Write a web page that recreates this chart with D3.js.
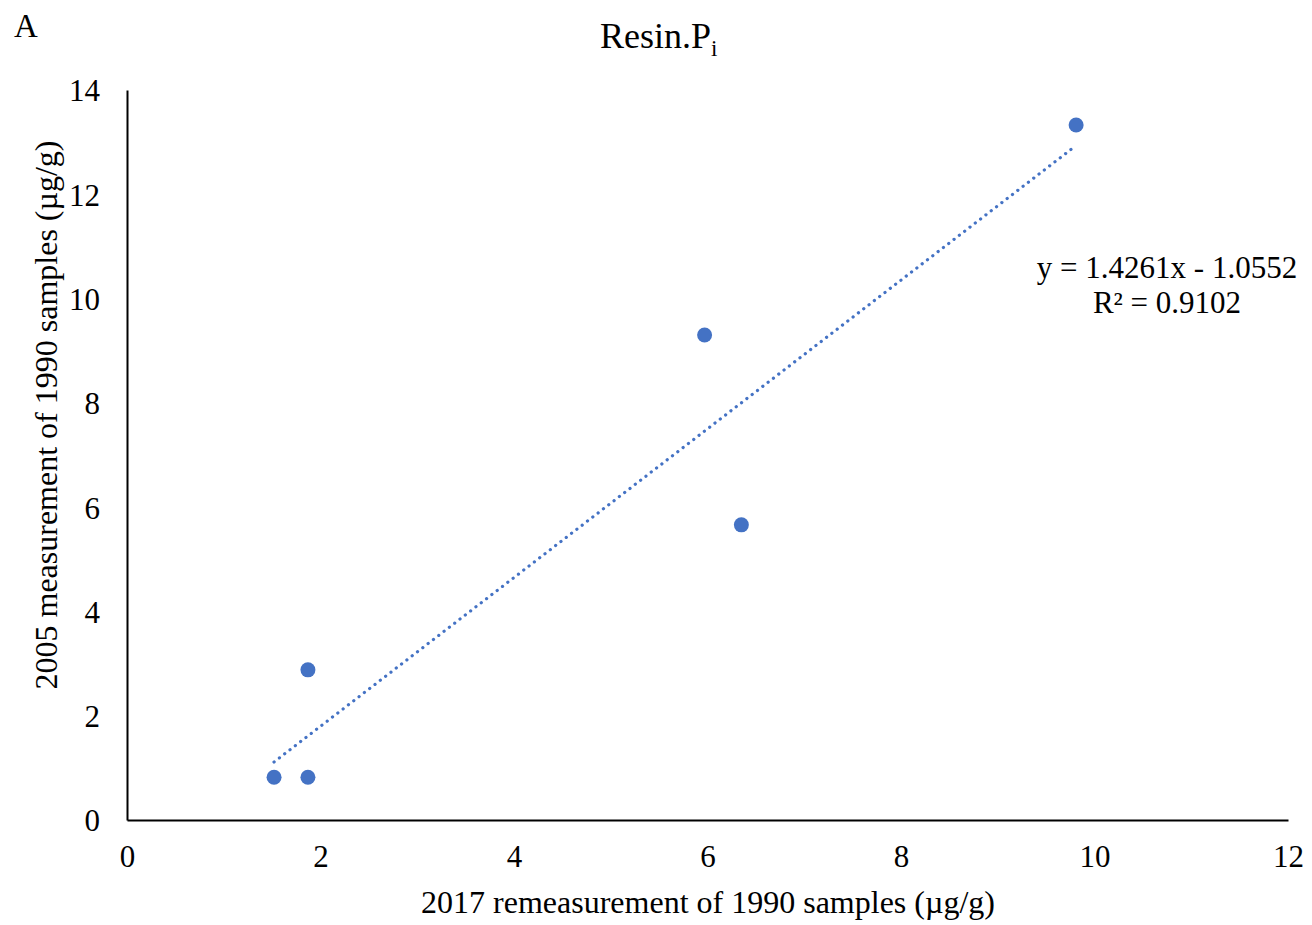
<!DOCTYPE html>
<html>
<head>
<meta charset="utf-8">
<script src="https://cdn.jsdelivr.net/npm/d3@7"></script>
<style>
  html, body { margin: 0; padding: 0; background: #fff; }
  svg { display: block; font-family: "Liberation Serif", "Times New Roman", serif; }
</style>
</head>
<body>
<svg id="chart" width="1312" height="925"></svg>
<script>
// Resin Pi: 2017 remeasurement (x) vs 2005 measurement (y), µg/g
const xValues = [1.52, 1.87, 1.87, 5.97, 6.35, 9.81];
const yValues = [0.82, 0.82, 2.88, 9.30, 5.66, 13.33];
const xTicks = [0, 2, 4, 6, 8, 10, 12];
const yTicks = [0, 2, 4, 6, 8, 10, 12, 14];
const slope = 1.4261;
const intercept = -1.0552;
const rSquared = 0.9102;

const svg = d3.select("#chart");
const x = d3.scaleLinear().domain([0, 12]).range([127, 1288]);
const y = d3.scaleLinear().domain([0, 14]).range([820, 90]);
const blue = "#4472C4";
const fs = 31;

// axes (lines only, no tick marks)
const xAxis = svg.append("g").attr("transform", `translate(0,${y(0)})`)
  .call(d3.axisBottom(x).tickValues(xTicks).tickSize(0).tickPadding(25).tickFormat(d3.format("d")));
const yAxis = svg.append("g").attr("transform", `translate(${x(0)},0)`)
  .call(d3.axisLeft(y).tickValues(yTicks).tickSize(0).tickPadding(27).tickFormat(d3.format("d")));
[xAxis, yAxis].forEach(g => {
  g.select(".domain").attr("stroke", "#000").attr("stroke-width", 2);
  g.selectAll("text").attr("font-size", fs).attr("fill", "#000")
    .attr("font-family", "Liberation Serif, Times New Roman, serif");
});
xAxis.selectAll("text").attr("dy", "0.71em");
yAxis.selectAll("text").attr("dy", "0.35em");

// linear trendline over the data range
const xMin = d3.min(xValues), xMax = d3.max(xValues);
svg.append("line")
  .attr("x1", x(xMin)).attr("y1", y(slope * xMin + intercept))
  .attr("x2", x(xMax)).attr("y2", y(slope * xMax + intercept))
  .attr("stroke", blue).attr("stroke-width", 3.2)
  .attr("stroke-linecap", "round").attr("stroke-dasharray", "0.1 6.6");

// points
svg.append("g").selectAll("circle")
  .data(xValues.map((v, i) => [v, yValues[i]]))
  .join("circle")
  .attr("cx", d => x(d[0])).attr("cy", d => y(d[1]))
  .attr("r", 7.5).attr("fill", blue);

// equation and R²
const eq = svg.append("text").attr("text-anchor", "middle").attr("font-size", fs).attr("fill", "#000");
eq.append("tspan").attr("x", 1167).attr("y", 278).text(`y = ${slope}x - ${Math.abs(intercept)}`);
eq.append("tspan").attr("x", 1167).attr("y", 313).text(`R² = ${rSquared}`);

// title and panel letter
const title = svg.append("text").attr("x", 600).attr("y", 48).attr("font-size", 36).attr("fill", "#000");
title.append("tspan").text("Resin.P");
title.append("tspan").attr("font-size", 23).attr("dy", 8).text("i");
svg.append("text").attr("x", 14).attr("y", 37).attr("font-size", 33).attr("fill", "#000").text("A");

// axis titles
svg.append("text").attr("x", 708).attr("y", 913).attr("text-anchor", "middle")
  .attr("font-size", 32).attr("fill", "#000").text("2017 remeasurement of 1990 samples (µg/g)");
svg.append("text").attr("transform", "translate(57,415) rotate(-90)").attr("text-anchor", "middle")
  .attr("font-size", 32).attr("fill", "#000").text("2005 measurement of 1990 samples (µg/g)");
</script>
</body>
</html>
